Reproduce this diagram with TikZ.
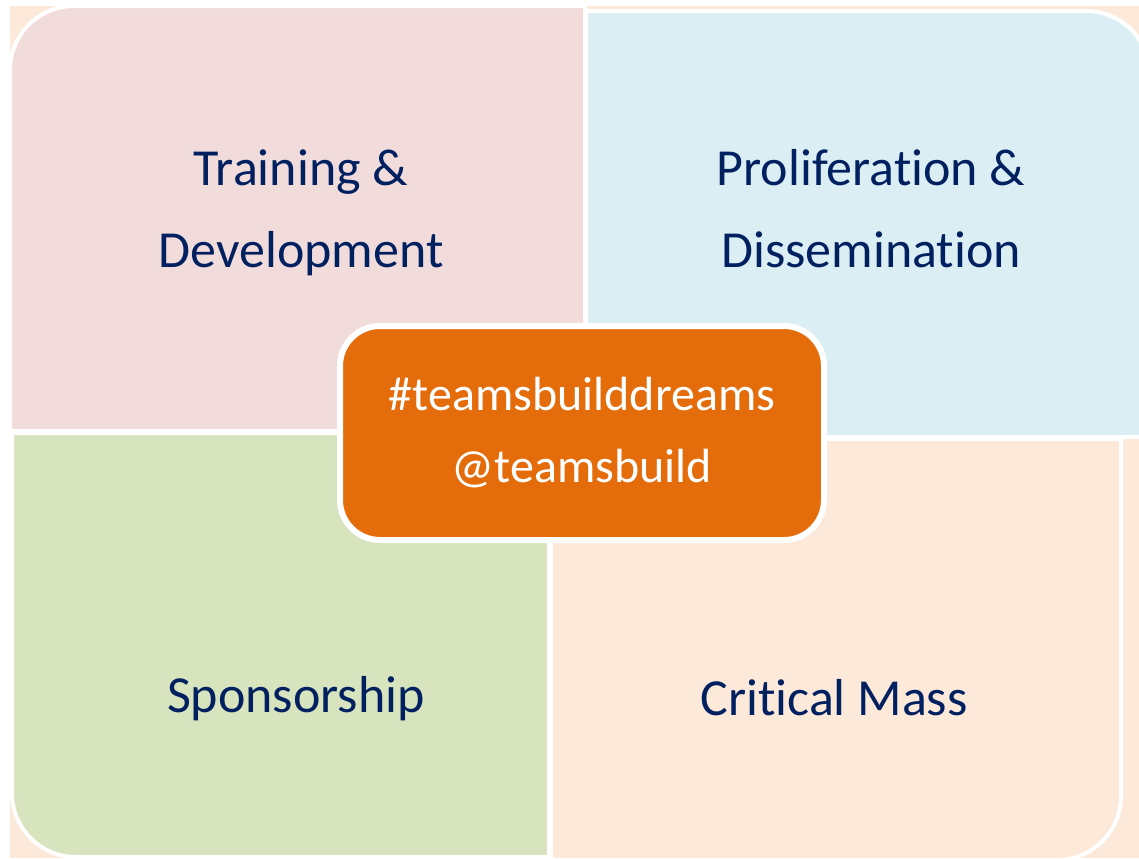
\documentclass[tikz,border=0pt]{standalone}
\usepackage{fontspec}
\setmainfont{Carlito}[Ligatures={NoCommon}]
\usetikzlibrary{positioning}

\definecolor{trainpink}{HTML}{F2DCDB}
\definecolor{proliblue}{HTML}{DBEEF4}
\definecolor{sponsgreen}{HTML}{D7E4BD}
\definecolor{masspeach}{HTML}{FDE9D9}
\definecolor{huborange}{HTML}{E46C0A}
\definecolor{labelnavy}{HTML}{002060}

\tikzset{
    quad/.style={draw=white, line width=2pt},
    quadlabel/.style={text=labelnavy, align=center, anchor=base,
        font=\fontsize{26}{41}\selectfont},
    hubbox/.style={draw=white, line width=3pt, fill=huborange,
        rounded corners=20pt, text=white, align=center,
        minimum width=242pt, minimum height=107pt,
        font=\fontsize{24}{36}\selectfont}
}

\begin{document}
\begin{tikzpicture}[x=0.5pt, y=-0.5pt]
    \useasboundingbox (0, 0) rectangle (1139, 858);
    \fill[masspeach] (10, 6) rectangle (1139, 858);
    \begin{scope}
    \clip (0, 0) rectangle (1139, 858);
    \filldraw[quad, fill=trainpink] (10, 431)
        [rounded corners=32pt] -- (10, 6) [sharp corners] -- (585, 6)
        -- (585, 431) -- cycle;
    \filldraw[quad, fill=proliblue] (586, 437) -- (586, 11)
        [rounded corners=32pt] -- (1150, 11) [sharp corners] -- (1150, 437)
        -- cycle;
    \filldraw[quad, fill=sponsgreen] (549, 433) -- (12, 433)
        [rounded corners=32pt] -- (12, 857) [sharp corners] -- (549, 857)
        -- cycle;
    \filldraw[quad, fill=masspeach] (551, 439) -- (1121, 439)
        [rounded corners=32pt] -- (1121, 860) [sharp corners] -- (551, 860)
        -- cycle;
    \end{scope}
    \node[quadlabel] (training) at (301, 267) {Training \&\\Development};
    \node[quadlabel] (proliferation) at (871, 267) {Proliferation \&\\Dissemination};
    \node[quadlabel] (sponsorship) at (296, 712) {Sponsorship};
    \node[quadlabel] (mass) at (834, 715) {Critical Mass};
    \node[hubbox] (hub) at (582, 433) {\#teamsbuilddreams\\@teamsbuild};
\end{tikzpicture}
\end{document}
